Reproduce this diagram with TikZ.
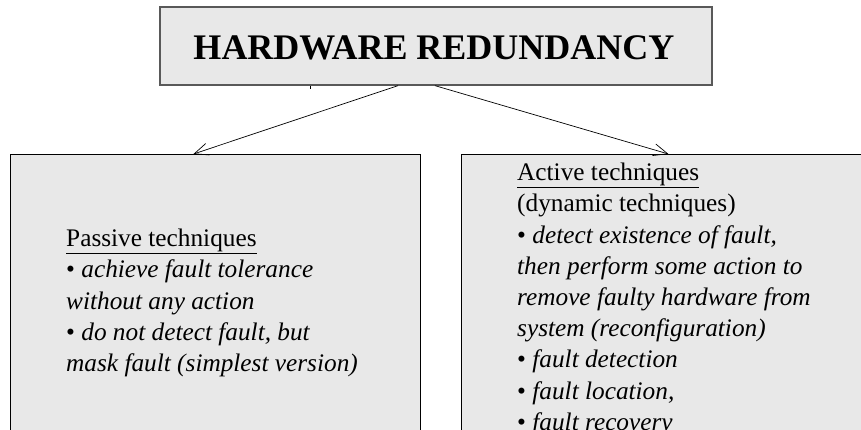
\documentclass[tikz,border=0pt]{standalone}
\usepackage{fontspec}
\setmainfont{Liberation Serif}
\usetikzlibrary{arrows.meta}
\definecolor{boxgray}{HTML}{E8E8E8}
\begin{document}
\begin{tikzpicture}[x=1pt,y=-1pt,
  panel/.style={draw=black, line width=0.9pt, fill=boxgray, inner sep=0pt, anchor=north west},
  headbox/.style={draw=black!65, line width=1.3pt, fill=boxgray, inner sep=0pt,
    minimum width=552pt, minimum height=78pt},
  bodytext/.style={inner sep=0pt, align=left, anchor=north west,
    font=\fontsize{25.3}{31.2}\selectfont},
  link/.style={line width=0.7pt, -{Straight Barb[length=14pt,width=12pt,line width=0.7pt]}}
]
\useasboundingbox (0,0) rectangle (861,430);
\clip (0,0) rectangle (861,430);

% title
\node[headbox] (title) at (436,46) {};
\node[inner sep=0pt, anchor=base, font=\fontsize{36}{40}\bfseries\selectfont] (titletext) at (434,60) {HARDWARE REDUNDANCY};
\coordinate (tick) at ([xshift=-126pt]title.south);
\draw[line width=0.7pt] (tick) -- ++(0,3);

% the two technique panels
\node[panel, minimum width=410pt, minimum height=300pt] (passive) at (10,154) {};
\node[panel, minimum width=420pt, minimum height=300pt] (active) at (461,154) {};

% connectors
\coordinate (from1) at ([xshift=-38pt]title.south);
\coordinate (from2) at ([xshift=-1pt]title.south);
\coordinate (to1) at ([xshift=-22pt]passive.north);
\coordinate (to2) at ([xshift=-3pt]active.north);
\draw[link] (from1) -- (to1);
\draw[link] (from2) -- (to2);

% panel texts
\node[bodytext] (passivetext) at (66,229) {\underline{Passive techniques}\\
  • \textit{achieve fault tolerance}\\
  \textit{without any action}\\
  • \textit{do not detect fault, but}\\
  \textit{mask fault (simplest version)}};
\node[bodytext] (activetext) at (517,163) {\underline{Active techniques}\\
  (dynamic techniques)\\
  • \textit{detect existence of fault,}\\
  \textit{then perform some action to}\\
  \textit{remove faulty hardware from}\\
  \textit{system (reconfiguration)}\\
  • \textit{fault detection}\\
  • \textit{fault location,}\\
  • \textit{fault recovery}};
\end{tikzpicture}
\end{document}
